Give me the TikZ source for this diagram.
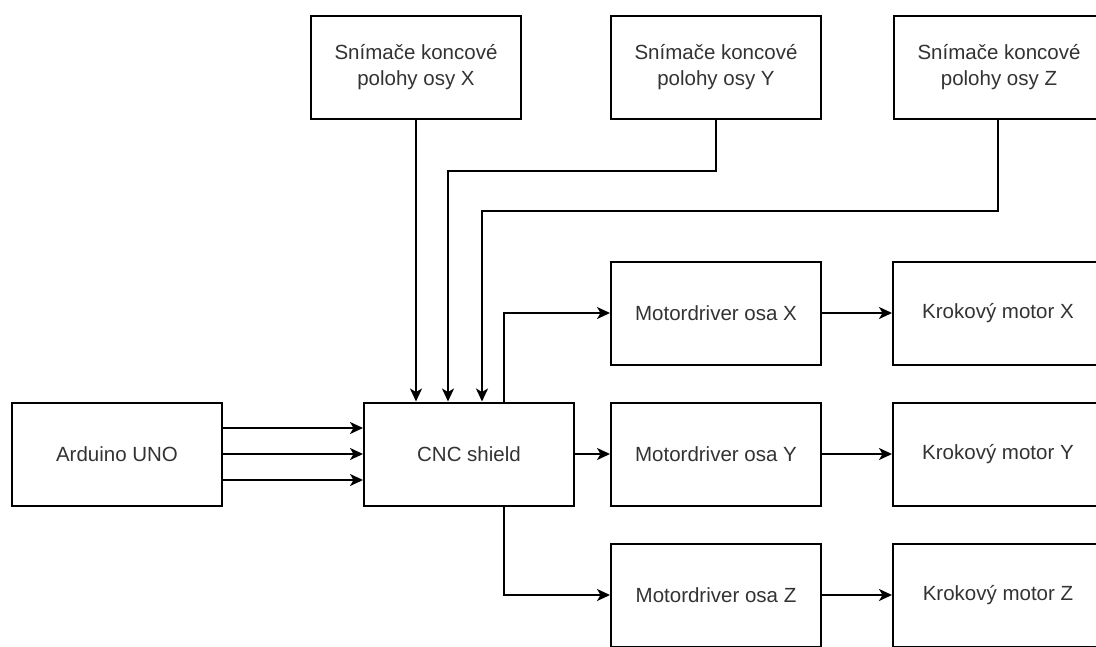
\documentclass[tikz,border=0pt]{standalone}
\usepackage{fontspec}
\setmainfont{Liberation Sans}
\usetikzlibrary{positioning, arrows.meta}

\begin{document}
\begin{tikzpicture}[x=1pt, y=-1pt]
\tikzset{blok/.style={draw, line width=2pt, minimum width=210pt, minimum height=103pt,
    inner sep=0pt, align=center, text=black!80,
    font=\fontsize{20.5pt}{26pt}\selectfont}}
\tikzset{spoj/.style={line width=2pt, -{Stealth[length=13pt, width=12pt, inset=3.5pt]}}}
\useasboundingbox (0,0) rectangle (1096,646);
\clip (0,0) rectangle (1096,646);
\fill[white] (0,0) rectangle (1096,646);
% bloky
\node[blok] (ard) at (117,454) {Arduino UNO};
\node[blok, right=140pt of ard] (cnc) {CNC shield};
\node[blok, right=35pt of cnc] (mdy) {Motordriver osa Y};
\node[blok, above=36pt of mdy] (mdx) {Motordriver osa X};
\node[blok, below=36pt of mdy] (mdz) {Motordriver osa Z};
\node[blok, right=70pt of mdx] (kmx) {Krokový motor X};
\node[blok, right=70pt of mdy] (kmy) {Krokový motor Y};
\node[blok, right=70pt of mdz] (kmz) {Krokový motor Z};
\node[blok, above=141pt of mdx] (sny) {Snímače koncové\\polohy osy Y};
\node[blok, left=88pt of sny] (snx) {Snímače koncové\\polohy osy X};
\node[blok, right=71pt of sny] (snz) {Snímače koncové\\polohy osy Z};
% Arduino -> shield
\draw[spoj] ([yshift=26pt]ard.east) -- ([yshift=26pt]cnc.west);
\draw[spoj] (ard.east) -- (cnc.west);
\draw[spoj] ([yshift=-26pt]ard.east) -- ([yshift=-26pt]cnc.west);
% snimace -> shield
\draw[spoj] (snx.south) -- (snx.south |- cnc.north);
\draw[spoj] (sny.south) -- (sny.south |- 0,171) -| ([xshift=-21pt]cnc.north);
\draw[spoj] ([xshift=-1pt]snz.south) -- ([xshift=-1pt]snz.south |- 0,211) -| ([xshift=13pt]cnc.north);
% shield -> drivery
\draw[spoj] ([xshift=35pt]cnc.north) |- (mdx.west);
\draw[spoj] (cnc.east) -- (mdy.west);
\draw[spoj] ([xshift=35pt]cnc.south) |- (mdz.west);
% drivery -> motory
\draw[spoj] (mdx.east) -- (kmx.west);
\draw[spoj] (mdy.east) -- (kmy.west);
\draw[spoj] (mdz.east) -- (kmz.west);
\end{tikzpicture}
\end{document}
